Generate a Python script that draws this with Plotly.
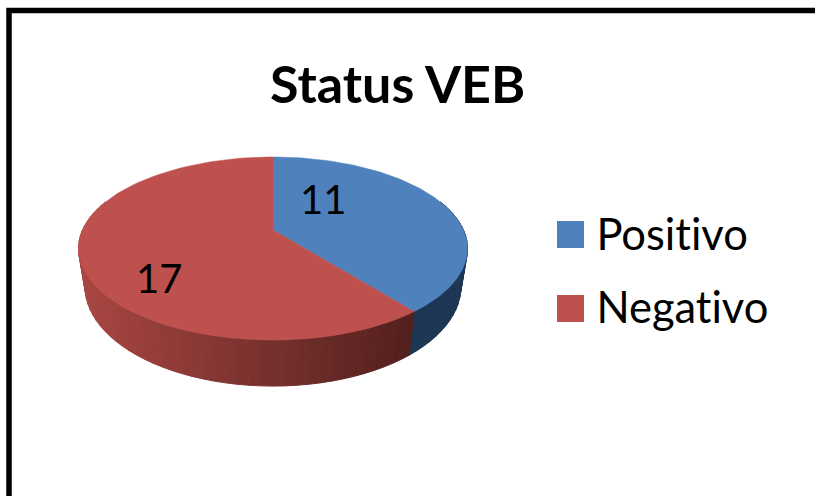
import numpy as np
import plotly.graph_objects as go

title = "Status VEB"
categories = ["Positivo", "Negativo"]
values = [11, 17]
top_colors = ["#4F81BD", "#BE504D"]

FONT = "Lato, Carlito, Calibri, sans-serif"

# perspective of the pie, in page pixels
CX, CY = 273, 230
RX_TOP, RX_BOTTOM = 190.5, 184
RY = 87.8
TILT = 0.2023
DEPTH = 36.7


def rim(theta, bottom=False):
    u, v = np.sin(theta), -np.cos(theta)
    w = 1 - TILT * v
    rx = RX_BOTTOM if bottom else RX_TOP
    drop = DEPTH if bottom else 0
    return CX + rx * u / w, CY + (RY * v + drop) / w


def side_color(slice_index, x):
    # office-style shading, darker to the right
    t = min(max((x - 85) / (413 - 85), 0), 1)
    if slice_index == 0:
        return "rgb(29,54,84)"
    left, right = (168, 70, 66), (82, 32, 30)
    return "rgb(%d,%d,%d)" % tuple(a + (b - a) * t for a, b in zip(left, right))


fig = go.Figure()

# slice angles, clockwise from twelve o'clock
edges = np.concatenate([[0], np.cumsum(values)]) / sum(values) * 2 * np.pi

# side wall first, top faces go over it
for i in range(len(values)):
    lo = max(edges[i], np.radians(70))
    hi = min(edges[i + 1], np.radians(290))
    n = int(np.ceil((hi - lo) / np.radians(3)))
    steps = np.linspace(lo, hi, n + 1)
    for a, b in zip(steps[:-1], steps[1:]):
        xt, yt = rim(np.array([a, b]))
        xb, yb = rim(np.array([b, a]), bottom=True)
        color = side_color(i, (xt.mean() + xb.mean()) / 2)
        fig.add_trace(
            go.Scatter(
                x=[*xt, *xb, xt[0]],
                y=[*yt, *yb, yt[0]],
                mode="lines",
                fill="toself",
                fillcolor=color,
                line=dict(color=color, width=1),
                hoverinfo="skip",
            )
        )

# top faces
for i, name in enumerate(categories):
    angles = np.linspace(edges[i], edges[i + 1], 121)
    xs, ys = rim(angles)
    fig.add_trace(
        go.Scatter(
            x=[CX, *xs, CX],
            y=[CY, *ys, CY],
            mode="lines",
            fill="toself",
            fillcolor=top_colors[i],
            line=dict(color=top_colors[i], width=0.5),
            name=name,
            hoverinfo="skip",
        )
    )

# legend squares
fig.add_trace(
    go.Scatter(
        x=[570.5, 570.5],
        y=[234.5, 308.5],
        mode="markers",
        marker=dict(symbol="square", size=27, color=top_colors, line_width=0),
        hoverinfo="skip",
    )
)

label_pos = [(323, 199), (159, 278)]
legend_pos = [(594, 233), (594, 305.5)]

annotations = [
    dict(x=397, y=83, text="<b>%s</b>" % title, font=dict(size=52, color="black"))
]
for v, (x, y) in zip(values, label_pos):
    annotations.append(dict(x=x, y=y, text=str(v), font=dict(size=40, color="black")))
for name, (x, y) in zip(categories, legend_pos):
    annotations.append(
        dict(x=x, y=y, text=name, xanchor="left", font=dict(size=43.5, color="black"))
    )

fig.update_layout(
    width=815,
    height=496,
    margin=dict(l=0, r=0, t=0, b=0),
    paper_bgcolor="white",
    plot_bgcolor="white",
    showlegend=False,
    font_family=FONT,
    xaxis=dict(range=[0, 815], visible=False, fixedrange=True),
    yaxis=dict(range=[496, 0], visible=False, fixedrange=True),
    annotations=[dict(a, showarrow=False, xref="x", yref="y") for a in annotations],
    # chart frame, runs off the right and bottom of the picture
    shapes=[
        dict(
            type="rect",
            xref="x",
            yref="y",
            x0=9,
            y0=10.5,
            x1=830,
            y1=520,
            line=dict(color="black", width=5.5),
            layer="above",
        )
    ],
)

fig.write_html(
    "out.html",
    config={"displayModeBar": False},
    post_script=(
        "document.body.style.margin = '0';"
        "var s = document.createElement('style');"
        "s.textContent = 'text {font-variant-ligatures: none !important;}';"
        "document.head.appendChild(s);"
    ),
)
